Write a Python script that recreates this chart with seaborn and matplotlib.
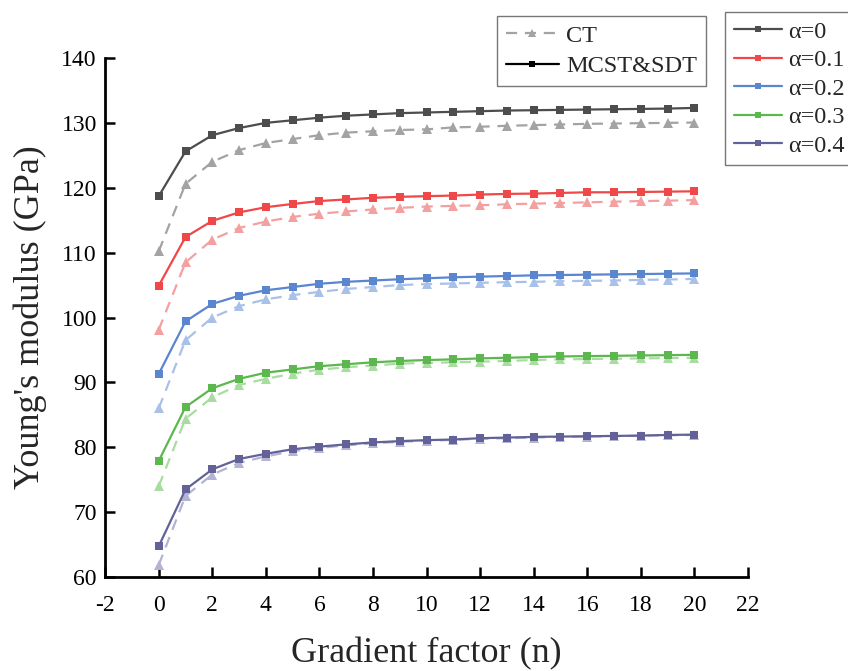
import matplotlib
matplotlib.use("Agg")
import matplotlib.pyplot as plt
from matplotlib.lines import Line2D
import seaborn as sns
import pandas as pd

n = list(range(21))
alphas = ["α=0", "α=0.1", "α=0.2", "α=0.3", "α=0.4"]

mcst_a0 = [118.7, 125.6, 128.1, 129.2, 130.0, 130.4, 130.8, 131.1, 131.3, 131.5, 131.6,
           131.7, 131.8, 131.9, 131.95, 132.0, 132.05, 132.1, 132.15, 132.2, 132.3]
ct_a0 = [110.2, 120.6, 124.0, 125.8, 126.9, 127.5, 128.1, 128.5, 128.7, 128.9, 129.0,
         129.3, 129.4, 129.55, 129.65, 129.75, 129.85, 129.9, 129.95, 130.0, 130.05]
mcst_a1 = [104.9, 112.4, 114.9, 116.2, 117.0, 117.5, 117.95, 118.2, 118.45, 118.6, 118.7,
           118.8, 118.95, 119.05, 119.1, 119.2, 119.3, 119.3, 119.35, 119.4, 119.45]
ct_a1 = [98.1, 108.5, 112.0, 113.8, 114.8, 115.5, 116.0, 116.35, 116.65, 116.9, 117.1,
         117.2, 117.3, 117.45, 117.55, 117.65, 117.75, 117.85, 117.95, 118.0, 118.1]
mcst_a2 = [91.3, 99.4, 102.1, 103.35, 104.2, 104.7, 105.2, 105.5, 105.7, 105.9, 106.05,
           106.2, 106.3, 106.4, 106.5, 106.55, 106.6, 106.65, 106.7, 106.75, 106.8]
ct_a2 = [86.0, 96.5, 100.0, 101.75, 102.8, 103.45, 103.95, 104.4, 104.7, 105.0, 105.15,
         105.25, 105.35, 105.45, 105.5, 105.6, 105.65, 105.7, 105.8, 105.85, 105.95]
mcst_a3 = [77.9, 86.2, 89.1, 90.55, 91.5, 92.0, 92.5, 92.8, 93.1, 93.3, 93.45,
           93.55, 93.7, 93.8, 93.9, 94.0, 94.05, 94.1, 94.15, 94.2, 94.25]
ct_a3 = [74.0, 84.4, 87.7, 89.6, 90.55, 91.35, 91.95, 92.35, 92.6, 92.9, 93.0,
         93.1, 93.2, 93.3, 93.45, 93.55, 93.6, 93.65, 93.7, 93.75, 93.8]
mcst_a4 = [64.75, 73.5, 76.6, 78.2, 79.0, 79.7, 80.1, 80.45, 80.75, 80.95, 81.1,
           81.2, 81.4, 81.5, 81.6, 81.65, 81.7, 81.75, 81.8, 81.9, 81.95]
ct_a4 = [61.85, 72.5, 75.8, 77.6, 78.6, 79.4, 79.9, 80.3, 80.6, 80.85, 81.0,
         81.15, 81.3, 81.4, 81.5, 81.6, 81.65, 81.7, 81.8, 81.85, 81.9]

mcst = [mcst_a0, mcst_a1, mcst_a2, mcst_a3, mcst_a4]
ct = [ct_a0, ct_a1, ct_a2, ct_a3, ct_a4]

mcst_colors = ["#4d4d4d", "#f04848", "#5a86d0", "#5cb84e", "#626298"]
ct_colors = ["#a3a3a3", "#f5a0a0", "#a9c1e9", "#a9dca0", "#b3b3d3"]

xticks = list(range(-2, 23, 2))
yticks = list(range(60, 141, 10))

sns.set_theme(style="ticks")
plt.rcParams["font.family"] = ["Liberation Serif", "DejaVu Serif"]
plt.rcParams["axes.unicode_minus"] = False

fig = plt.figure(figsize=(8.48, 6.71), dpi=100)
ax = fig.add_axes([0.124, 0.140, 0.758, 0.7736])

for i in range(5):
    sns.lineplot(x=n, y=ct[i], ax=ax, color=ct_colors[i], linestyle=(0, (5, 3.5)),
                 linewidth=1.6, marker="^", markersize=6.5, markeredgewidth=0,
                 zorder=2)
for i in range(5):
    sns.lineplot(x=n, y=mcst[i], ax=ax, color=mcst_colors[i], linewidth=1.6,
                 marker="s", markersize=6, markeredgewidth=0, zorder=3)

ax.set_xlim(-2, 22)
ax.set_ylim(60, 140)
ax.set_xticks(xticks)
ax.set_yticks(yticks)
ax.tick_params(direction="in", length=7, width=1.8, labelsize=17, pad=6,
               colors="black")
ax.tick_params(axis="x", pad=13)
for s in ["top", "right"]:
    ax.spines[s].set_visible(False)
for s in ["left", "bottom"]:
    ax.spines[s].set_linewidth(2)
    ax.spines[s].set_color("black")
ax.set_xlabel("Gradient factor (n)", fontsize=26, labelpad=15)
ax.set_ylabel("Young's modulus (GPa)", fontsize=26, labelpad=10)

h1 = [Line2D([], [], color="#a3a3a3", linestyle=(0, (5, 3.5)), lw=1.6, marker="^",
             markersize=6, markeredgewidth=0),
      Line2D([], [], color="black", lw=1.6, marker="s", markersize=5, markeredgewidth=0)]
leg1 = fig.legend(h1, ["CT", "MCST&SDT"], loc="upper left",
                  bbox_to_anchor=(497 / 848, 1 - 16 / 671), fontsize=17.5,
                  frameon=True, fancybox=False, edgecolor="#555555",
                  handlelength=2.2, handletextpad=0.3, borderpad=0.35,
                  labelspacing=0.35, borderaxespad=0)
leg1.get_frame().set_linewidth(1.0)

h2 = [Line2D([], [], color=c, lw=1.6, marker="s", markersize=5, markeredgewidth=0)
      for c in mcst_colors]
leg2 = fig.legend(h2, alphas, loc="upper left",
                  bbox_to_anchor=(725 / 848, 1 - 12 / 671), fontsize=17.5,
                  frameon=True, fancybox=False, edgecolor="#555555",
                  handlelength=2.0, handletextpad=0.25, borderpad=0.35,
                  labelspacing=0.27, borderaxespad=0)
leg2.get_frame().set_linewidth(1.0)

fig.savefig("out.png", dpi=100)
